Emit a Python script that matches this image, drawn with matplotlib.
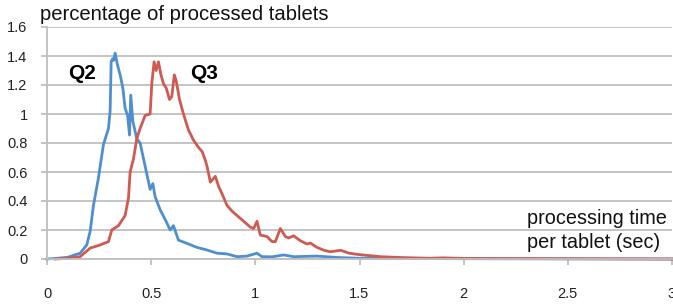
import matplotlib
matplotlib.use("Agg")
import matplotlib.pyplot as plt

plt.rcParams['font.family'] = ['Liberation Sans', 'DejaVu Sans']

# Q2 (blue)
q2_t = [0.0, 0.05, 0.1, 0.159, 0.191, 0.207, 0.223, 0.247, 0.271, 0.295, 0.303, 0.308,
        0.314, 0.320, 0.327, 0.338, 0.351, 0.364, 0.375, 0.387, 0.396, 0.402, 0.412,
        0.431, 0.447, 0.471, 0.495, 0.508, 0.519, 0.543, 0.575, 0.591, 0.607, 0.631,
        0.671, 0.72, 0.768, 0.816, 0.864, 0.912, 0.96, 1.008, 1.032, 1.08, 1.136, 1.184,
        1.296, 1.4, 1.5, 2.0, 3.0]
q2_v = [0.0, 0.005, 0.012, 0.04, 0.097, 0.19, 0.37, 0.56, 0.79, 0.90, 1.02, 1.36,
        1.38, 1.37, 1.42, 1.34, 1.27, 1.18, 1.04, 0.99, 0.855, 1.13, 0.95,
        0.83, 0.80, 0.64, 0.48, 0.52, 0.43, 0.34, 0.25, 0.20, 0.23, 0.13,
        0.108, 0.08, 0.062, 0.04, 0.035, 0.016, 0.02, 0.04, 0.016, 0.015, 0.028, 0.016,
        0.02, 0.01, 0.005, 0.002, 0.0]

# Q3 (red)
q3_t = [0.04, 0.1, 0.159, 0.207, 0.255, 0.295, 0.311, 0.343, 0.375, 0.391, 0.399,
        0.415, 0.431, 0.447, 0.471, 0.495, 0.503, 0.514, 0.524, 0.535, 0.547, 0.559,
        0.572, 0.588, 0.599, 0.611, 0.62, 0.636, 0.655, 0.679, 0.703, 0.727, 0.745,
        0.76, 0.768, 0.784, 0.808, 0.824, 0.84, 0.864, 0.888, 0.912, 0.944, 0.976,
        0.992, 1.008, 1.024, 1.056, 1.08, 1.096, 1.12, 1.144, 1.16, 1.184, 1.216,
        1.248, 1.264, 1.296, 1.33, 1.36, 1.41, 1.45, 1.5, 1.6, 1.7, 1.84, 1.9, 2.0,
        2.5, 3.0]
q3_v = [0.0, 0.005, 0.016, 0.075, 0.097, 0.12, 0.2, 0.23, 0.30, 0.42, 0.60,
        0.69, 0.83, 0.90, 0.99, 1.0, 1.21, 1.36, 1.30, 1.36, 1.27, 1.21,
        1.18, 1.10, 1.12, 1.27, 1.23, 1.10, 1.0, 0.89, 0.82, 0.77, 0.74,
        0.68, 0.64, 0.53, 0.57, 0.50, 0.45, 0.37, 0.33, 0.30, 0.26, 0.22,
        0.21, 0.26, 0.165, 0.155, 0.12, 0.12, 0.21, 0.155, 0.145, 0.16, 0.126,
        0.103, 0.11, 0.08, 0.06, 0.05, 0.06, 0.04, 0.03, 0.016, 0.01, 0.005, 0.008, 0.004,
        0.002, 0.0]

x_ticks = [0, 0.5, 1, 1.5, 2, 2.5, 3]
x_labels = ['0', '0.5', '1', '1.5', '2', '2.5', '3']
y_ticks = [0, 0.2, 0.4, 0.6, 0.8, 1, 1.2, 1.4, 1.6]
y_labels = ['0', '0.2', '0.4', '0.6', '0.8', '1', '1.2', '1.4', '1.6']

W, H = 673, 304
fig = plt.figure(figsize=(W / 100, H / 100), dpi=100)
ax = fig.add_axes([47 / W, 45 / H, (672 - 47) / W, (259 - 27) / H])

grid_c = '#bfbfbf'
ax.set_xlim(0, 3)
ax.set_ylim(0, 1.6)
ax.set_yticks(y_ticks)
ax.set_yticklabels(y_labels)
ax.set_xticks(x_ticks)
ax.set_xticklabels(x_labels)
ax.grid(axis='y', color=grid_c, linewidth=1.3)
ax.set_axisbelow(True)
for s in ['top', 'right']:
    ax.spines[s].set_visible(False)
for s in ['left', 'bottom']:
    ax.spines[s].set_color(grid_c)
    ax.spines[s].set_linewidth(1.3)
ax.tick_params(axis='both', colors=grid_c, length=4, width=1.3, labelsize=10.5,
               labelcolor='#222222')
ax.tick_params(axis='y', pad=10)
ax.tick_params(axis='x', pad=16)

ax.plot(q2_t, q2_v, color='#4f8fd0', linewidth=2.0, solid_joinstyle='round', clip_on=False)
ax.plot(q3_t, q3_v, color='#cf5a52', linewidth=2.0, solid_joinstyle='round', clip_on=False)

ax.text(0.168, 1.28, 'Q2', fontsize=15, fontweight='bold', ha='center', va='center')
ax.text(0.755, 1.28, 'Q3', fontsize=15, fontweight='bold', ha='center', va='center')
ax.text(2.305, 0.28, 'processing time', fontsize=14.3, ha='left', va='center', color='#111111')
ax.text(2.305, 0.117, 'per tablet (sec)', fontsize=14.3, ha='left', va='center', color='#111111')

fig.text(40 / W, 1 - 15 / H, 'percentage of processed tablets', fontsize=14.6,
         ha='left', va='center', color='#111111')

fig.savefig('out.png', dpi=100)
